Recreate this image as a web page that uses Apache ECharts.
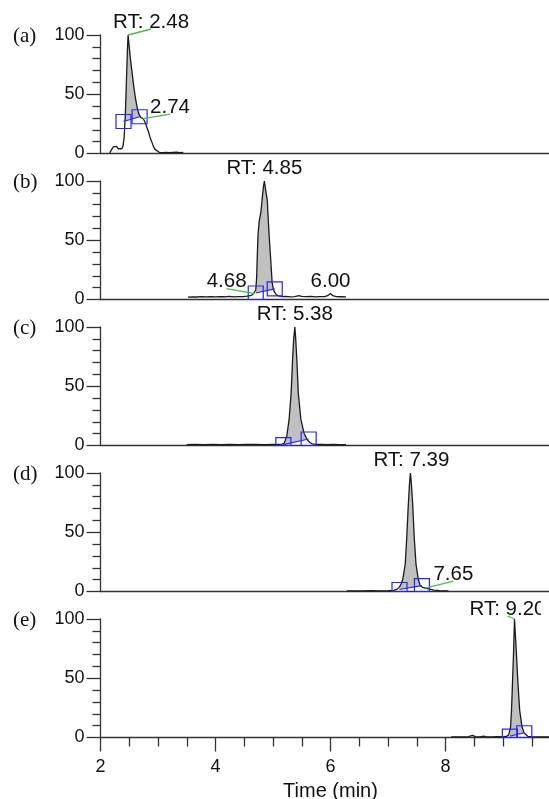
<!DOCTYPE html>
<html>
<head>
<meta charset="utf-8">
<script src="https://cdn.jsdelivr.net/npm/echarts@6/dist/echarts.min.js"></script>
<style>
  html, body { margin: 0; padding: 0; background: #fff; }
  #chart { width: 549px; height: 799px; }
</style>
</head>
<body>
<div id="chart"></div>
<script>
// ---- Chromatogram traces: retention time (min) and relative abundance (%) ----
const tA = [2.16,2.19,2.22,2.25,2.28,2.31,2.34,2.37,2.39,2.41,2.43,2.45,2.47,2.48,2.50,2.52,2.55,2.58,2.61,2.64,2.67,2.70,2.74,2.77,2.80,2.83,2.86,2.89,2.92,2.95,2.98,3.02,3.08,3.14,3.20,3.26,3.32,3.38,3.44];
const yA = [0.5,3,5.5,6.5,6,4,3.5,4,6,13,30,60,90,100,90,80,68,56,46,38,33,30.5,29.5,27,23,19,14,10,6,3.5,2,1,0.8,1,0.7,0.9,1.1,0.8,0.9];

const tB = [3.52,3.60,3.68,3.76,3.84,3.92,4.00,4.08,4.16,4.24,4.32,4.40,4.48,4.55,4.61,4.65,4.68,4.70,4.715,4.725,4.74,4.76,4.79,4.81,4.83,4.85,4.87,4.90,4.915,4.93,4.96,4.985,5.01,5.03,5.06,5.10,5.16,5.22,5.30,5.38,5.45,5.50,5.58,5.66,5.74,5.82,5.90,5.95,6.00,6.04,6.10,6.18,6.27];
const yB = [2.0,2.3,2.1,2.4,2.2,2.5,2.2,2.4,2.3,2.6,2.3,2.5,2.4,2.8,3.2,4.2,5,8,18,34,55,66,74,84,94,100,93,84,70,56,34,14,8,6,4,3,2.5,2.6,2.3,2.5,3.2,2.6,2.4,2.6,2.3,2.5,2.4,3.2,5,3.2,2.4,2.3,2.2];

const tC = [3.50,3.65,3.80,3.95,4.10,4.25,4.40,4.55,4.70,4.85,5.00,5.10,5.16,5.195,5.24,5.28,5.315,5.34,5.36,5.38,5.395,5.415,5.44,5.485,5.54,5.595,5.64,5.685,5.75,5.85,5.95,6.05,6.15,6.27];
const yC = [0.8,0.9,0.8,1.0,0.8,0.9,0.8,1.0,0.9,0.8,1.0,1.0,1.2,2,8,22,44,72,90,100,90,72,44,22,10.4,4.8,2.5,1.4,1.0,0.9,0.8,0.9,0.8,0.8];

const tD = [6.28,6.40,6.55,6.70,6.85,7.00,7.10,7.16,7.20,7.23,7.256,7.30,7.325,7.353,7.375,7.39,7.405,7.43,7.457,7.487,7.527,7.56,7.60,7.65,7.72,7.80,7.90,7.98,8.05];
const yD = [0.5,0.6,0.5,0.7,0.6,0.7,1,2,3.9,6.5,10.3,23,45,73,92,100,92,73,45,23,10.3,5,3.5,2.8,2,1.2,0.8,0.6,0.5];

const tE = [8.10,8.20,8.30,8.40,8.47,8.52,8.60,8.66,8.72,8.80,8.90,9.00,9.06,9.10,9.132,9.148,9.165,9.185,9.20,9.23,9.26,9.29,9.33,9.37,9.43,9.50,9.60,9.70,9.80];
const yE = [0.5,0.6,0.5,0.7,1.8,0.7,0.6,1.2,0.6,0.5,0.7,0.6,0.9,2.2,9,23,45.7,73.7,100,73.7,45.7,23,9,3.5,1,0.7,0.5,0.6,0.5];

// ---- Peak integration limits: [start, end] as [time, abundance] ----
const intA = [[2.40, 27], [2.68, 31]];
const intB = [[4.70, 5.5], [5.03, 9]];
const intC = [[5.18, 0.8], [5.62, 5.5]];
const intD = [[7.20, 1.7], [7.59, 5]];
const intE = [[9.12, 1.2], [9.37, 4]];

// ---- Annotated retention times (first entry is the main peak) ----
const rtA = [2.48, 2.74];
const rtB = [4.85, 4.68, 6.00];
const rtC = [5.38];
const rtD = [7.39, 7.65];
const rtE = [9.20];

const panelTags = ['(a)', '(b)', '(c)', '(d)', '(e)'];
const xTickLabels = [2, 4, 6, 8];
const yTickLabels = [0, 50, 100];

// ---- Layout and style ----
const GRID_LEFT = 100.5;
const GRID_WIDTH = 460;          // 2..10 min; the right end runs past the canvas edge
const GRID_TOP0 = 35;
const GRID_STEP = 146;
const GRID_H = 118.5;
const SANS = '"Liberation Sans", Arial, Helvetica, sans-serif';
const SERIF = '"Liberation Serif", "Times New Roman", serif';
const AXIS_COLOR = '#333';
const TRACE_COLOR = '#1a1a1a';
const FILL_COLOR = '#c0c0c0';
const BLUE = '#2424ff';
const GREEN = '#45bf45';
// label placement: [dx, dy, draw leader line] relative to the annotated point
const labelOffsets = [
  [[23, -13, 1], [27, -11.5, 1]],
  [[0, -13, 0], [-28, -12, 1], [0, -12, 0]],
  [[0, -13, 0]],
  [[1, -13, 0], [28, -14, 1]],
  [[-7, -10, 1]]
];

const panels = [
  { t: tA, y: yA, integ: intA, rt: rtA },
  { t: tB, y: yB, integ: intB, rt: rtB },
  { t: tC, y: yC, integ: intC, rt: rtC },
  { t: tD, y: yD, integ: intD, rt: rtD },
  { t: tE, y: yE, integ: intE, rt: rtE }
];

function interp(ts, ys, t) {
  if (t <= ts[0]) return ys[0];
  for (let k = 1; k < ts.length; k++) {
    if (t <= ts[k]) {
      const f = (t - ts[k - 1]) / (ts[k] - ts[k - 1]);
      return ys[k - 1] + f * (ys[k] - ys[k - 1]);
    }
  }
  return ys[ys.length - 1];
}

// Shaded integrated area between the trace and the integration baseline
function fillRender(p) {
  return function (params, api) {
    const [[t1, b1], [t2, b2]] = p.integ;
    const base = t => b1 + (b2 - b1) * (t - t1) / (t2 - t1);
    const ts = [t1].concat(p.t.filter(t => t > t1 && t < t2), [t2]);
    const upper = ts.map(t => api.coord([t, Math.max(interp(p.t, p.y, t), base(t))]));
    const lower = [api.coord([t2, b2]), api.coord([t1, b1])];
    return {
      type: 'polygon',
      shape: { points: upper.concat(lower) },
      style: { fill: FILL_COLOR, stroke: null }
    };
  };
}

// Integration marker boxes, clipped to the plot area
function boxRender(params, api) {
  const c = api.coord([api.value(0), api.value(1)]);
  const cs = params.coordSys;
  const r = echarts.graphic.clipRectByRect(
    { x: c[0] - 7.5, y: c[1] - 7, width: 15, height: 14 },
    { x: cs.x, y: cs.y, width: cs.width, height: cs.height }
  );
  if (!r) return null;
  return { type: 'rect', shape: r, style: { fill: null, stroke: BLUE, lineWidth: 1.2 } };
}

// Retention-time labels with leader lines
function labelRender(i) {
  return function (params, api) {
    const k = params.dataIndex;
    const t = api.value(0);
    const c = api.coord([t, api.value(1)]);
    const off = labelOffsets[i][k];
    const cx = c[0] + off[0];
    const cy = c[1] + off[1];
    const text = (k === 0 ? 'RT: ' : '') + t.toFixed(2);
    const children = [];
    if (off[2]) {
      children.push({
        type: 'line',
        shape: { x1: c[0], y1: c[1], x2: cx, y2: cy + 7 },
        style: { stroke: GREEN, lineWidth: 1.3 }
      });
    }
    children.push({
      type: 'text',
      style: {
        x: cx, y: cy, text: text, align: 'center', verticalAlign: 'middle',
        font: '20.5px ' + SANS, fill: '#111'
      }
    });
    return {
      type: 'group',
      children: children,
      clipPath: { type: 'rect', shape: { x: 0, y: 0, width: 541, height: 799 } }
    };
  };
}

const grids = [], xAxes = [], yAxes = [], series = [], graphics = [];

panels.forEach((p, i) => {
  const top = GRID_TOP0 + GRID_STEP * i;
  const last = i === panels.length - 1;
  grids.push({
    left: GRID_LEFT, width: GRID_WIDTH, top: top, height: GRID_H,
    containLabel: false, outerBoundsMode: 'none'
  });

  xAxes.push({
    type: 'value', gridIndex: i, min: 2, max: 10, interval: 2,
    axisLine: { show: true, lineStyle: { color: AXIS_COLOR, width: 1.3 } },
    axisTick: { show: last, length: 14, lineStyle: { color: AXIS_COLOR, width: 1.3 } },
    minorTick: { show: last, splitNumber: 4, length: 9, lineStyle: { color: AXIS_COLOR, width: 1.3 } },
    axisLabel: {
      show: last, margin: 21, fontSize: 18, fontFamily: SANS, color: '#111',
      formatter: v => (xTickLabels.indexOf(v) >= 0 ? String(v) : '')
    },
    splitLine: { show: false },
    name: last ? 'Time (min)' : '',
    nameLocation: 'middle', nameGap: 44,
    nameTextStyle: { fontSize: 20, fontFamily: SANS, color: '#111' }
  });

  yAxes.push({
    type: 'value', gridIndex: i, min: 0, max: 100, interval: 50,
    axisLine: { show: true, lineStyle: { color: AXIS_COLOR, width: 1.3 } },
    axisTick: { show: true, length: 14, lineStyle: { color: AXIS_COLOR, width: 1.3 } },
    minorTick: { show: true, splitNumber: 5, length: 8, lineStyle: { color: AXIS_COLOR, width: 1.3 } },
    axisLabel: {
      margin: 16, fontSize: 18, fontFamily: SANS, color: '#111',
      formatter: v => (yTickLabels.indexOf(v) >= 0 ? String(v) : '')
    },
    splitLine: { show: false }
  });

  const traceData = p.t.map((t, k) => [t, p.y[k]]);

  series.push({
    type: 'custom', xAxisIndex: i, yAxisIndex: i, silent: true, z: 1,
    data: [p.integ[0]], encode: { x: 0, y: 1 }, renderItem: fillRender(p)
  });
  series.push({
    type: 'line', xAxisIndex: i, yAxisIndex: i, silent: true, z: 2,
    data: traceData, showSymbol: false, symbol: 'none',
    lineStyle: { color: TRACE_COLOR, width: 1.3 }
  });
  series.push({
    type: 'line', xAxisIndex: i, yAxisIndex: i, silent: true, z: 3,
    data: p.integ, showSymbol: false, symbol: 'none',
    lineStyle: { color: BLUE, width: 1.2 }
  });
  series.push({
    type: 'custom', xAxisIndex: i, yAxisIndex: i, silent: true, z: 4,
    data: p.integ, encode: { x: 0, y: 1 }, renderItem: boxRender
  });
  series.push({
    type: 'custom', xAxisIndex: i, yAxisIndex: i, silent: true, z: 5,
    data: p.rt.map(t => [t, p.y[p.t.indexOf(t)]]),
    encode: { x: 0, y: 1 }, renderItem: labelRender(i)
  });

  graphics.push({
    type: 'text', x: 13, y: top + 1, silent: true,
    style: { text: panelTags[i], font: '21px ' + SERIF, fill: '#111', verticalAlign: 'middle' }
  });
});

const chart = echarts.init(document.getElementById('chart'), null, { renderer: 'canvas' });
chart.setOption({
  animation: false,
  backgroundColor: '#fff',
  grid: grids,
  xAxis: xAxes,
  yAxis: yAxes,
  series: series,
  graphic: graphics
});
</script>
</body>
</html>
